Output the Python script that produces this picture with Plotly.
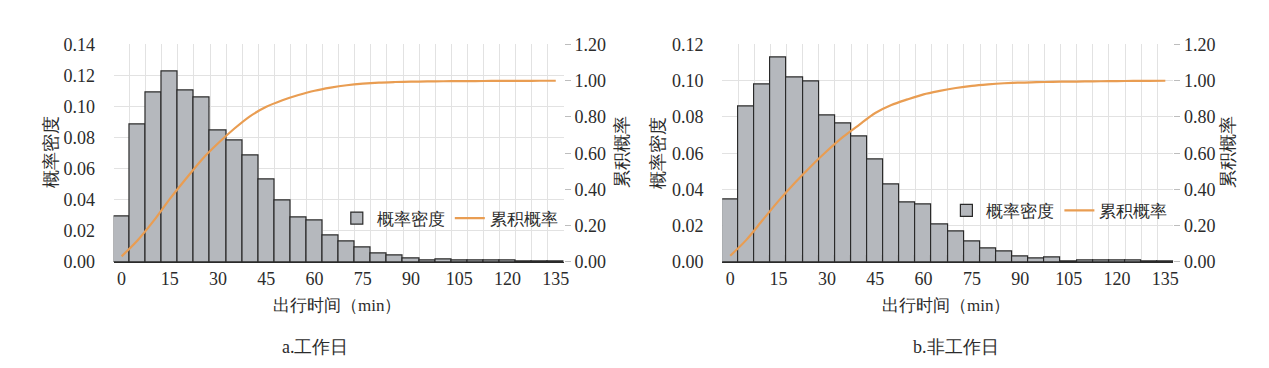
import plotly.graph_objects as go

# ---- data ----
minutes = [0, 5, 10, 15, 20, 25, 30, 35, 40, 45, 50, 55, 60, 65,
           70, 75, 80, 85, 90, 95, 100, 105, 110, 115, 120, 125, 130, 135]
tick_minutes = [0, 15, 30, 45, 60, 75, 90, 105, 120, 135]

workday_density = [0.0294, 0.0883, 0.1090, 0.1228, 0.1104, 0.1057, 0.0848, 0.0785,
                   0.0688, 0.0530, 0.0394, 0.0288, 0.0268, 0.0172, 0.0132, 0.0091,
                   0.0055, 0.0041, 0.0024, 0.0012, 0.0018, 0.0010, 0.0010, 0.0008,
                   0.0008, 0.0006, 0.0006, 0.0005]
workday_cum = [0.031, 0.120, 0.228, 0.348, 0.459, 0.566, 0.655, 0.735, 0.805, 0.856,
               0.892, 0.921, 0.945, 0.962, 0.975, 0.984, 0.990, 0.993, 0.995, 0.996,
               0.997, 0.998, 0.998, 0.999, 0.999, 0.999, 1.000, 1.000]

holiday_density = [0.0343, 0.0860, 0.0978, 0.1130, 0.1018, 0.0995, 0.0808, 0.0766,
                   0.0692, 0.0566, 0.0427, 0.0331, 0.0319, 0.0205, 0.0166, 0.0112,
                   0.0077, 0.0056, 0.0032, 0.0018, 0.0023, 0.0005, 0.0009, 0.0009,
                   0.0006, 0.0006, 0.0005, 0.0005]
holiday_cum = [0.034, 0.122, 0.230, 0.337, 0.436, 0.527, 0.612, 0.690, 0.757, 0.822,
               0.866, 0.897, 0.925, 0.944, 0.960, 0.972, 0.980, 0.986, 0.990, 0.992,
               0.994, 0.995, 0.996, 0.997, 0.998, 0.999, 0.999, 1.000]

density_name = "概率密度"
cum_name = "累积概率"
x_title = "出行时间（min）"
captions = ["a.工作日", "b.非工作日"]

# ---- styles ----
BAR_FILL = "#B5B8BD"
BAR_EDGE = "#2A2A2A"
LINE_COL = "#E99D52"
GRID = "#E2E2E2"
TXT = "#2B2B2B"
NUM_FONT = "Liberation Serif"
CJK_FONT = "Liberation Serif"
W, H = 1269, 368

bin_w = minutes[1] - minutes[0]
edges = [m - bin_w / 2 for m in minutes] + [minutes[-1] + bin_w / 2]
xrange_ = [edges[0], edges[-1]]

fig = go.Figure()

panels = [
    dict(dens=workday_density, cum=workday_cum, x="x", y="y", y2="y2", legend="legend"),
    dict(dens=holiday_density, cum=holiday_cum, x="x2", y="y3", y2="y4", legend="legend2"),
]
for p in panels:
    fig.add_trace(go.Bar(x=minutes, y=p["dens"], width=bin_w, name=density_name,
                         marker=dict(color=BAR_FILL, line=dict(color=BAR_EDGE, width=1.2)),
                         xaxis=p["x"], yaxis=p["y"], legend=p["legend"]))
    fig.add_trace(go.Scatter(x=minutes, y=p["cum"], mode="lines", name=cum_name,
                             line=dict(color=LINE_COL, width=2.2, shape="spline", smoothing=0.8),
                             xaxis=p["x"], yaxis=p["y2"], legend=p["legend"]))

ydom = [1 - 258 / H, 1 - 28 / H]
xdoms = [[106 / W, 558 / W], [717 / W, 1170 / W]]

def xaxis_cfg(dom, anchor):
    return dict(domain=dom, anchor=anchor, range=xrange_, showgrid=False,
                tickmode="array", tickvals=tick_minutes,
                ticktext=[str(t) for t in tick_minutes],
                ticks="",
                tickfont=dict(family=NUM_FONT, size=18, color=TXT),
                showline=True, linecolor=BAR_EDGE, linewidth=1.3,
                minor=dict(tickmode="array", tickvals=edges, showgrid=True,
                           gridcolor=GRID, gridwidth=1, ticks=""),
                zeroline=False, fixedrange=True)

def yleft_cfg(anchor, top):
    return dict(domain=ydom, anchor=anchor, range=[0, top], dtick=0.02, tick0=0,
                tickformat=".2f", showgrid=True, gridcolor=GRID, gridwidth=1,
                ticks="outside", ticklen=14, tickcolor="rgba(0,0,0,0)",
                tickfont=dict(family=NUM_FONT, size=18, color=TXT),
                showline=False, zeroline=False)

def yright_cfg(anchor, overlay):
    return dict(domain=ydom, anchor=anchor, overlaying=overlay, side="right",
                range=[0, 1.2], dtick=0.2, tick0=0, tickformat=".2f",
                showgrid=False, ticks="outside", ticklen=6, tickcolor="#BDBDBD",
                tickwidth=1, tickfont=dict(family=NUM_FONT, size=18, color=TXT),
                showline=False, zeroline=False)

legend_common = dict(orientation="h", xanchor="right", yanchor="middle",
                     bgcolor="rgba(0,0,0,0)", itemwidth=30, tracegroupgap=0,
                     font=dict(family=CJK_FONT, size=17, color=TXT))

fig.update_layout(
    width=W, height=H, margin=dict(l=0, r=0, t=0, b=0),
    paper_bgcolor="white", plot_bgcolor="white",
    bargap=0, showlegend=True,
    xaxis=xaxis_cfg(xdoms[0], "y"),
    xaxis2=xaxis_cfg(xdoms[1], "y3"),
    yaxis=yleft_cfg("x", 0.14),
    yaxis2=yright_cfg("x", "y"),
    yaxis3=yleft_cfg("x2", 0.12),
    yaxis4=yright_cfg("x2", "y3"),
    legend=dict(x=557 / W, y=1 - 212 / H, **legend_common),
    legend2=dict(x=1169 / W, y=1 - 204 / H, **legend_common),
)

ann = []
def add_text(text, x, y, angle=0, size=18):
    ann.append(dict(text=text, x=x / W, y=1 - y / H, xref="paper", yref="paper",
                    showarrow=False, textangle=angle, xanchor="center", yanchor="middle",
                    font=dict(family=CJK_FONT, size=size, color=TXT)))

add_text(density_name, 43, 142, -90)
add_text(cum_name, 617, 142, -90)
add_text(density_name, 653, 142, -90)
add_text(cum_name, 1225, 142, -90)
add_text(x_title, 330, 304, size=17)
add_text(x_title, 942, 304, size=17)
add_text(captions[0], 309, 348)
add_text(captions[1], 952, 348)
fig.update_layout(annotations=ann)

fig.write_html("out.html")
